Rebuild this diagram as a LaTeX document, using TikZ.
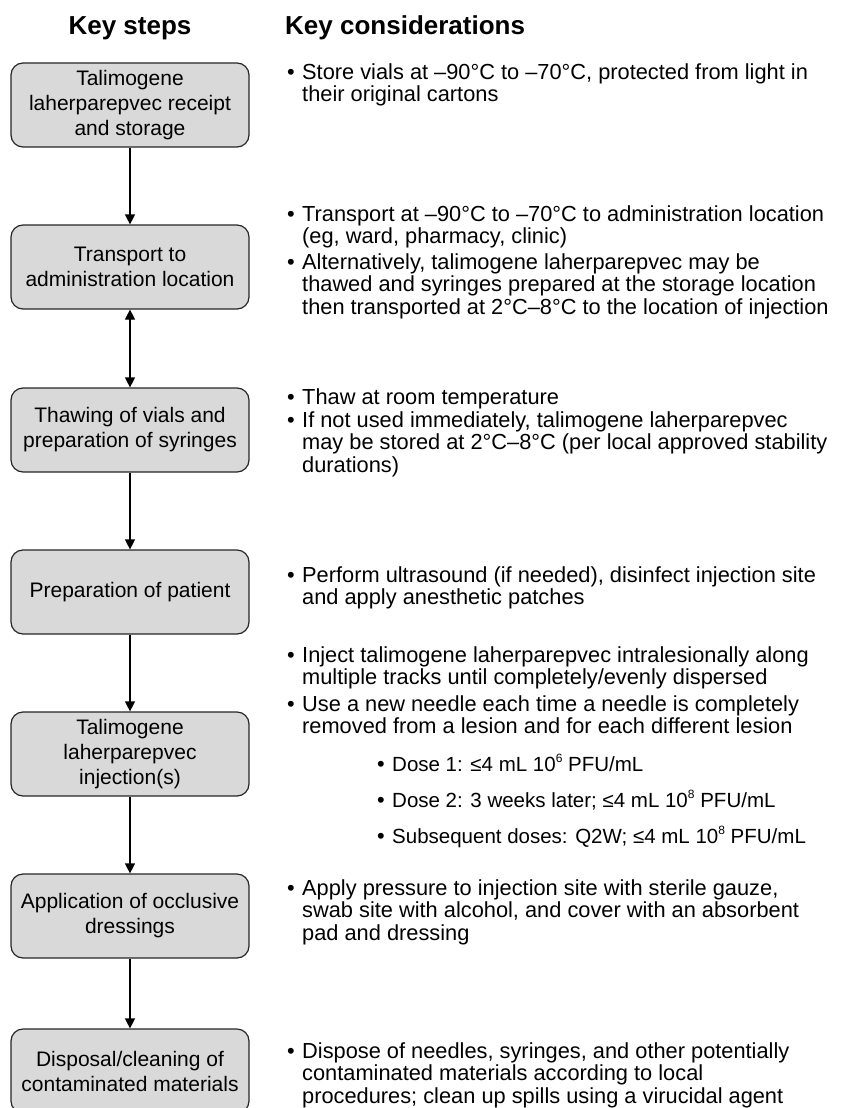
\documentclass[tikz,border=0pt]{standalone}
\usepackage{fontspec}
\setmainfont{Liberation Sans}
\usetikzlibrary{arrows.meta}
\definecolor{boxgray}{HTML}{D9D9D9}
\definecolor{edge}{HTML}{262626}
\newcommand{\mainsz}{\fontsize{21.8}{22.4}\selectfont}
\newcommand{\subsz}{\fontsize{20.5}{22.4}\selectfont}
\newcommand{\lines}[1]{\begin{tabular}[t]{@{}l@{}}#1\end{tabular}}
\newcommand{\supnum}[1]{\raisebox{0.42em}{\fontsize{12}{12}\selectfont #1}}
\tikzset{
  stepbox/.style={draw=edge, fill=boxgray, rounded corners=12pt, line width=1.2pt,
    minimum width=238pt, minimum height=84pt, align=center, inner sep=0pt,
    font=\fontsize{21}{25}\selectfont},
  title/.style={font=\fontsize{26}{30}\selectfont\bfseries, inner sep=0pt},
  ctext/.style={anchor=base west, inner sep=0pt, font=\mainsz},
  stext/.style={anchor=base west, inner sep=0pt, font=\subsz},
  bul/.style={anchor=base west, inner sep=0pt, font=\mainsz},
  arr/.style={line width=1.2pt, draw=black, -{Triangle[width=10pt,length=10pt]}},
  darr/.style={line width=1.2pt, draw=black, {Triangle[width=10pt,length=10pt]}-{Triangle[width=10pt,length=10pt]}}
}
\begin{document}
\begin{tikzpicture}[x=1pt,y=-1pt]
\useasboundingbox (0,0) rectangle (845,1108);
\clip (0,0) rectangle (845,1108);
\node[title] (t1) at (130,28) {Key steps};
\node[title, anchor=west] (t2) at (285,28) {Key considerations};

\node[stepbox] (s1) at (130,105) {Talimogene\\laherparepvec receipt\\and storage};
\node[stepbox] (s2) at (130,267) {Transport to\\administration location};
\node[stepbox] (s3) at (130,430) {Thawing of vials and\\preparation of syringes};
\node[stepbox] (s4) at (130,592) {Preparation of patient};
\node[stepbox] (s5) at (130,754) {Talimogene\\laherparepvec\\injection(s)};
\node[stepbox] (s6) at (130,916) {Application of occlusive\\dressings};
\node[stepbox] (s7) at (130,1071) {Disposal/cleaning of\\contaminated materials};

\draw[arr] (s1.south) -- (s2.north);
\draw[darr] (s2.south) -- (s3.north);
\draw[arr] (s3.south) -- (s4.north);
\draw[arr] (s4.south) -- (s5.north);
\draw[arr] (s5.south) -- (s6.north);
\draw[arr] (s6.south) -- (s7.north);

\node[bul] (b1) at (287,79) {•};
\node[ctext] (c1) at (302,79) {\lines{Store vials at –90°C to –70°C, protected from light in\\their original cartons}};

\node[bul] (b2) at (287,221) {•};
\node[ctext] (c2) at (302,221) {\lines{Transport at –90°C to –70°C to administration location\\(eg, ward, pharmacy, clinic)}};
\node[bul] (b3) at (287,269) {•};
\node[ctext] (c3) at (302,269) {\lines{Alternatively, talimogene laherparepvec may be\\thawed and syringes prepared at the storage location\\then transported at 2°C–8°C to the location of injection}};

\node[bul] (b4) at (287,404) {•};
\node[ctext] (c4) at (302,404) {Thaw at room temperature};
\node[bul] (b5) at (287,427) {•};
\node[ctext] (c5) at (302,427) {\lines{If not used immediately, talimogene laherparepvec\\may be stored at 2°C–8°C (per local approved stability\\durations)}};

\node[bul] (b6) at (287,582) {•};
\node[ctext] (c6) at (302,582) {\lines{Perform ultrasound (if needed), disinfect injection site\\and apply anesthetic patches}};

\node[bul] (b7) at (287,662) {•};
\node[ctext] (c7) at (302,662) {\lines{Inject talimogene laherparepvec intralesionally along\\multiple tracks until completely/evenly dispersed}};
\node[bul] (b8) at (287,711) {•};
\node[ctext] (c8) at (302,711) {\lines{Use a new needle each time a needle is completely\\removed from a lesion and for each different lesion}};
\node[bul] (b9) at (377,771) {•};
\node[stext] (c9) at (392,771) {Dose 1: ≤4 mL 10\supnum{6} PFU/mL};
\node[bul] (b10) at (377,807) {•};
\node[stext] (c10) at (392,807) {Dose 2: 3 weeks later; ≤4 mL 10\supnum{8} PFU/mL};
\node[bul] (b11) at (377,843) {•};
\node[stext] (c11) at (392,843) {Subsequent doses: Q2W; ≤4 mL 10\supnum{8} PFU/mL};

\node[bul] (b12) at (287,895) {•};
\node[ctext] (c12) at (302,895) {\lines{Apply pressure to injection site with sterile gauze,\\swab site with alcohol, and cover with an absorbent\\pad and dressing}};

\node[bul] (b13) at (287,1058) {•};
\node[ctext] (c13) at (302,1058) {\lines{Dispose of needles, syringes, and other potentially\\contaminated materials according to local\\procedures; clean up spills using a virucidal agent}};
\end{tikzpicture}
\end{document}
